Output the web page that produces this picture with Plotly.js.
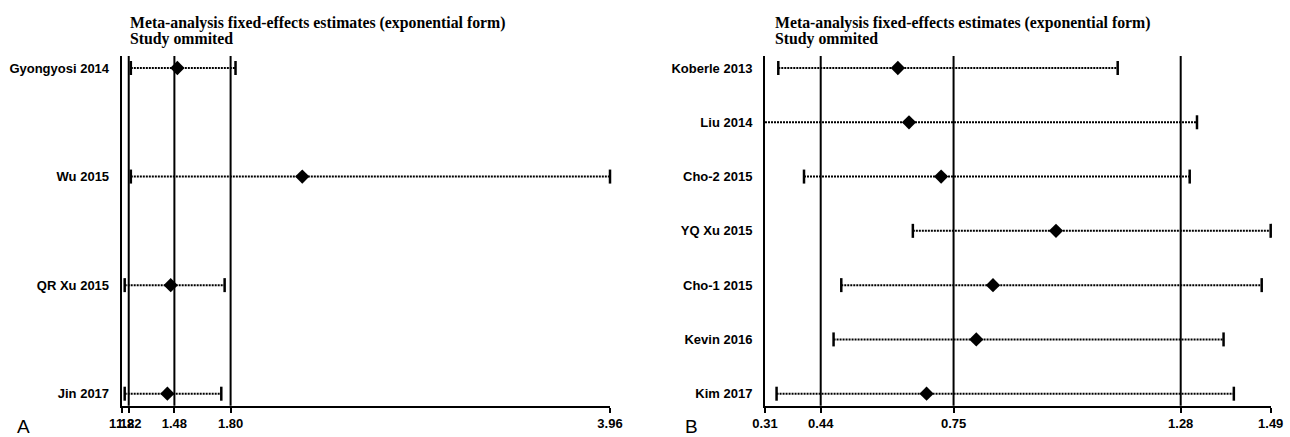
<!DOCTYPE html>
<html>
<head>
<meta charset="utf-8">
<script src="https://cdn.plot.ly/plotly-3.0.1.min.js"></script>
<style>html,body{margin:0;padding:0;background:#fff;}#chart{width:1290px;height:437px;}</style>
</head>
<body>
<div id="chart"></div>
<script>
// ---- Panel A data ----
const studiesA = ["Gyongyosi 2014", "Wu 2015", "QR Xu 2015", "Jin 2017"];
const estA = [1.497, 2.208, 1.459, 1.440];
const lowA = [1.232, 1.232, 1.197, 1.197];
const highA = [1.828, 3.96, 1.766, 1.747];
const refLinesA = [1.22, 1.48, 1.80];
const tickValsA = [1.18, 1.22, 1.48, 1.80, 3.96];
const tickTextA = ["1.18", "1.22", "1.48", "1.80", "3.96"];

// ---- Panel B data ----
const studiesB = ["Koberle 2013", "Liu 2014", "Cho-2 2015", "YQ Xu 2015", "Cho-1 2015", "Kevin 2016", "Kim 2017"];
const estB = [0.620, 0.646, 0.721, 0.989, 0.842, 0.803, 0.687];
const lowB = [0.341, 0.31, 0.401, 0.655, 0.488, 0.470, 0.337];
const highB = [1.133, 1.318, 1.301, 1.49, 1.469, 1.380, 1.404];
const refLinesB = [0.44, 0.75, 1.28];
const tickValsB = [0.31, 0.44, 0.75, 1.28, 1.49];
const tickTextB = ["0.31", "0.44", "0.75", "1.28", "1.49"];

const titleLine1 = "Meta-analysis fixed-effects estimates (exponential form)";
const titleLine2 = "Study ommited";

const W = 1290, H = 437;
const yDom = [1 - 405.7 / H, 1 - 56 / H];
const plotH = (yDom[1] - yDom[0]) * H;
const padPx = 12;

function yRange(n) {
  const unit = (plotH - 2 * padPx) / (n - 1);
  const p = padPx / unit;
  return [n - 1 + p, -p];
}

function panelTraces(low, est, high, xa, ya, liveCaps) {
  const lx = [], ly = [];
  low.forEach((l, i) => { lx.push(l, high[i], null); ly.push(i, i, null); });
  const traces = [];
  traces.push({
    type: "scatter", mode: "lines", x: lx, y: ly, xaxis: xa, yaxis: ya,
    line: { color: "#000", width: 2, dash: "2px,1px" }, hoverinfo: "skip", showlegend: false
  });
  const cx = [], cy = [];
  low.forEach((l, i) => { if (liveCaps(i, "low")) { cx.push(l); cy.push(i); } cx.push(high[i]); cy.push(i); });
  traces.push({
    type: "scatter", mode: "markers", x: cx, y: cy, xaxis: xa, yaxis: ya,
    marker: { symbol: "line-ns-open", size: 10, color: "#000", line: { color: "#000", width: 2.5 } },
    hoverinfo: "skip", showlegend: false, cliponaxis: false
  });
  traces.push({
    type: "scatter", mode: "markers", x: est, y: est.map((_, i) => i), xaxis: xa, yaxis: ya,
    marker: { symbol: "diamond", size: 11, color: "#000" }, showlegend: false
  });
  return traces;
}

const data = [
  ...panelTraces(lowA, estA, highA, "x", "y", () => true),
  ...panelTraces(lowB, estB, highB, "x2", "y2", (i) => lowB[i] > tickValsB[0] + 0.005)
];

const tickFont = { family: "Liberation Sans, Arial, sans-serif", size: 13, color: "#000", weight: "bold" };

function xAxis(dom, vals, text, anchor) {
  return {
    domain: dom, anchor: anchor, range: [vals[0], vals[vals.length - 1]],
    tickmode: "array", tickvals: vals, ticktext: text, tickangle: 0,
    showline: true, linecolor: "#000", linewidth: 2, mirror: false,
    ticks: "outside", ticklen: 5, tickwidth: 2, tickcolor: "#000",
    showgrid: false, zeroline: false, tickfont: tickFont, fixedrange: true
  };
}
function yAxis(names, anchor) {
  return {
    domain: yDom, anchor: anchor, range: yRange(names.length),
    tickmode: "array", tickvals: names.map((_, i) => i), ticktext: names,
    showline: true, linecolor: "#000", linewidth: 2,
    ticks: "", showgrid: false, zeroline: false, tickfont: tickFont,
    ticklabelstandoff: 8, fixedrange: true
  };
}

const shapes = [];
refLinesA.forEach(v => shapes.push({ type: "line", xref: "x", yref: "y domain", x0: v, x1: v, y0: 0, y1: 1, line: { color: "#000", width: 2 } }));
refLinesB.forEach(v => shapes.push({ type: "line", xref: "x2", yref: "y2 domain", x0: v, x1: v, y0: 0, y1: 1, line: { color: "#000", width: 2 } }));

const titleFont = { family: "Liberation Serif, Times New Roman, serif", size: 15.8, color: "#000", weight: "bold" };
function titleAnn(xpx) {
  return [
    { xref: "paper", yref: "paper", x: xpx / W, y: 1 - 23 / H, xanchor: "left", yanchor: "middle", text: titleLine1, showarrow: false, font: titleFont },
    { xref: "paper", yref: "paper", x: xpx / W, y: 1 - 39 / H, xanchor: "left", yanchor: "middle", text: titleLine2, showarrow: false, font: titleFont }
  ];
}
const letterFont = { family: "Liberation Sans, Arial, sans-serif", size: 19, color: "#000" };
const annotations = [
  ...titleAnn(128),
  ...titleAnn(773),
  { xref: "paper", yref: "paper", x: 15 / W, y: 1 - 426 / H, xanchor: "left", yanchor: "middle", text: "A", showarrow: false, font: letterFont },
  { xref: "paper", yref: "paper", x: 683 / W, y: 1 - 426 / H, xanchor: "left", yanchor: "middle", text: "B", showarrow: false, font: letterFont }
];

const layout = {
  width: W, height: H,
  margin: { l: 0, r: 0, t: 0, b: 0, pad: 0 },
  paper_bgcolor: "#fff", plot_bgcolor: "#fff",
  showlegend: false,
  xaxis: xAxis([121.7 / W, 610 / W], tickValsA, tickTextA, "y"),
  yaxis: yAxis(studiesA, "x"),
  xaxis2: xAxis([765 / W, 1270.7 / W], tickValsB, tickTextB, "y2"),
  yaxis2: yAxis(studiesB, "x2"),
  shapes: shapes,
  annotations: annotations
};

Plotly.newPlot("chart", data, layout, { displayModeBar: false, staticPlot: true });
</script>
</body>
</html>
